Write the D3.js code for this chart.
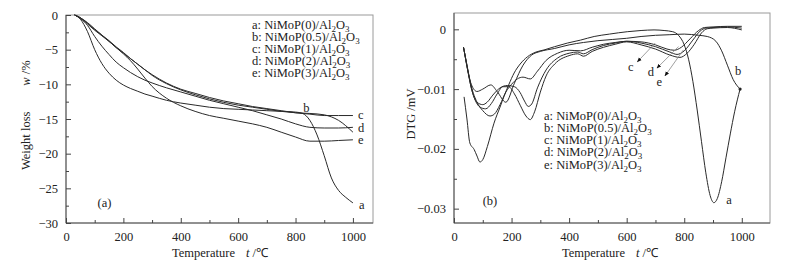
<!DOCTYPE html>
<html><head><meta charset="utf-8">
<script src="https://cdn.jsdelivr.net/npm/d3@7"></script>
<style>
html,body{margin:0;padding:0;background:#fff;}
svg{display:block;font-family:"Liberation Serif","Times New Roman",serif;}
</style></head><body>
<svg id="chart" width="788" height="264"></svg>
<script>
// ---------- Data: TG (weight loss, %) ----------
const samples = ["a: NiMoP(0)/Al_2O_3","b: NiMoP(0.5)/Al_2O_3","c: NiMoP(1)/Al_2O_3","d: NiMoP(2)/Al_2O_3","e: NiMoP(3)/Al_2O_3"];
const tgTempA = [30,50,75,100,125,150,175,200,225,250,275,300,350,400,450,500,550,600,650,700,750,800,825,850,875,900,925,950,975,1000];
const tgA     = [0,-0.6,-2.4,-5.0,-7.0,-8.4,-9.4,-10.1,-10.6,-11.0,-11.4,-11.7,-12.3,-12.7,-13.0,-13.3,-13.5,-13.6,-13.7,-13.8,-13.9,-14.0,-14.2,-15.2,-17.3,-20.3,-23.5,-25.3,-26.3,-27.1];
const tgTemp  = [30,50,75,100,125,150,175,200,225,250,275,300,350,400,450,500,550,600,650,700,750,800,850,900,950,1000];
const tgB = [0,-0.4,-1.2,-2.1,-2.9,-3.7,-4.6,-5.4,-6.3,-7.1,-7.9,-8.7,-9.9,-10.8,-11.5,-12.1,-12.6,-13.0,-13.3,-13.6,-13.9,-14.1,-14.2,-14.4,-15.2,-16.9];
const tgC = [0,-0.4,-1.3,-2.2,-3.0,-3.8,-4.7,-5.5,-6.3,-7.1,-7.9,-8.6,-9.8,-10.7,-11.3,-11.9,-12.4,-12.8,-13.2,-13.5,-13.8,-14.1,-14.3,-14.5,-14.5,-14.5];
const tgD = [0,-0.5,-1.5,-3.1,-4.5,-5.7,-6.8,-7.6,-8.3,-8.9,-9.4,-9.8,-10.5,-11.1,-11.7,-12.3,-12.8,-13.3,-13.8,-14.4,-15.0,-15.7,-16.2,-16.3,-16.3,-16.2];
const tgE = [0,-0.4,-1.1,-2.0,-2.9,-3.8,-4.7,-5.6,-6.6,-7.8,-9.1,-10.3,-12.0,-13.1,-13.9,-14.5,-14.9,-15.3,-15.7,-16.2,-16.9,-17.6,-18.2,-18.2,-18.1,-18.0];

// ---------- Data: DTG (mV) ----------
const dtgTempA = [35,45,55,70,80,90,100,116,139,160,174,190,209,230,255,285,313,350,394,440,487,540,602,650,695,730,760,780,800,815,830,845,860,875,890,903,915,930,945,960,975,994];
const dtgA     = [-0.0113,-0.0150,-0.0190,-0.0201,-0.0212,-0.0222,-0.0218,-0.0196,-0.0157,-0.0130,-0.0112,-0.0093,-0.0073,-0.0058,-0.0046,-0.0038,-0.00345,-0.0029,-0.0023,-0.0018,-0.0012,-0.0008,-0.0004,-0.0002,-0.0001,-0.0002,-0.0004,-0.0010,-0.0026,-0.0050,-0.0087,-0.0135,-0.0188,-0.0240,-0.0278,-0.0290,-0.0283,-0.0255,-0.0215,-0.0175,-0.0138,-0.0100];
const dtgTempB = [33,35,45,60,80,100,128,150,180,210,240,270,300,350,400,450,500,550,600,650,700,750,800,850,880,910,930,950,970,994];
const dtgB     = [-0.0030,-0.0035,-0.0062,-0.0092,-0.0104,-0.0100,-0.0093,-0.0104,-0.0122,-0.0090,-0.0060,-0.0043,-0.0037,-0.0032,-0.0026,-0.0022,-0.0019,-0.0017,-0.0015,-0.0012,-0.0010,-0.0009,-0.0008,-0.0010,-0.0012,-0.0020,-0.0036,-0.0060,-0.0084,-0.0100];
const dtgTempC = [33,35,45,60,80,100,125,140,160,180,200,220,240,265,290,320,360,400,440,480,520,560,600,650,700,740,765,790,820,850,870,900,950,1000];
const dtgC     = [-0.0030,-0.0035,-0.0060,-0.0095,-0.0122,-0.0136,-0.0145,-0.0142,-0.0126,-0.0105,-0.0092,-0.0083,-0.0080,-0.0083,-0.0070,-0.0052,-0.0040,-0.0035,-0.0036,-0.0030,-0.0025,-0.0022,-0.0020,-0.0021,-0.0026,-0.0033,-0.0035,-0.0030,-0.0016,-0.0002,0.0003,0.0004,0.0005,0.0005];
const dtgTempD = [33,35,45,60,80,100,115,135,160,185,210,230,245,258,270,290,320,360,400,430,450,480,520,560,600,650,700,750,775,800,830,855,875,900,950,1000];
const dtgD     = [-0.0030,-0.0035,-0.0060,-0.0098,-0.0122,-0.0126,-0.0122,-0.0110,-0.0098,-0.0094,-0.0096,-0.0106,-0.0120,-0.0129,-0.0125,-0.0098,-0.0068,-0.0048,-0.0040,-0.0038,-0.0041,-0.0034,-0.0027,-0.0023,-0.0020,-0.0023,-0.0029,-0.0038,-0.0042,-0.0036,-0.0018,-0.0003,0.0002,0.0003,0.0004,0.0002];
const dtgTempE = [33,35,45,60,75,90,110,130,150,170,190,210,230,250,265,280,300,320,350,400,430,450,480,520,560,600,650,700,750,785,810,835,860,880,900,950,1000];
const dtgE     = [-0.0030,-0.0035,-0.0062,-0.0098,-0.0120,-0.0130,-0.0133,-0.0124,-0.0108,-0.0096,-0.0096,-0.0108,-0.0127,-0.0145,-0.0151,-0.0138,-0.0105,-0.0078,-0.0058,-0.0044,-0.0041,-0.0045,-0.0037,-0.0030,-0.0025,-0.0021,-0.0026,-0.0033,-0.0043,-0.0047,-0.0040,-0.0025,-0.0006,0.0001,0.0002,0.0003,-0.0001];

const xTicks = [0,200,400,600,800,1000];
const tgYTicks = [0,-5,-10,-15,-20,-25,-30];
const dtgYTicks = [0,-0.01,-0.02,-0.03];
const curveLetters = ["a","b","c","d","e"];

const svg = d3.select("#chart");
const FS = 12.5;
const lineColor = "#2a2a2a";

function fmtMinus(v, dec){ const s = dec ? Math.abs(v).toFixed(dec) : String(Math.abs(v)); return (v<0?"\u2212":"")+s; }

function legendText(sel, str){
  // "Al_2O_3" -> subscripts; shift is carried to the next piece
  const parts = str.split(/(_\d)/).filter(p=>p.length);
  let shifted = false;
  parts.forEach(p=>{
    if(p.startsWith("_")){
      sel.append("tspan").attr("font-size","0.72em").attr("dy",shifted?0:3).text(p.slice(1));
      shifted = true;
    } else {
      sel.append("tspan").attr("dy",shifted?-3:0).text(p);
      shifted = false;
    }
  });
}

function panel(opts){
  const g = svg.append("g");
  const x = d3.scaleLinear().domain(opts.xDomain).range([opts.left, opts.right]);
  const y = d3.scaleLinear().domain(opts.yDomain).range([opts.bottom, opts.top]);
  // frame
  g.append("rect").attr("x",opts.left).attr("y",opts.top).attr("width",opts.right-opts.left).attr("height",opts.bottom-opts.top)
    .attr("fill","none").attr("stroke","#9a9a9a").attr("stroke-width",1);
  g.append("line").attr("x1",opts.left).attr("x2",opts.left).attr("y1",opts.top).attr("y2",opts.bottom).attr("stroke","#555");
  g.append("line").attr("x1",opts.left).attr("x2",opts.right).attr("y1",opts.bottom).attr("y2",opts.bottom).attr("stroke","#555");
  // x axis (ticks inward)
  const xAx = d3.axisBottom(x).tickValues(xTicks).tickSize(-5).tickPadding(9).tickFormat(d3.format("d"));
  const gx = g.append("g").attr("transform",`translate(0,${opts.bottom})`).call(xAx);
  gx.select(".domain").remove();
  gx.selectAll("line").attr("stroke","#444");
  gx.selectAll("text").attr("font-size",FS).attr("font-family","Liberation Serif").attr("fill","#222");
  const xMinor = d3.range(100,1100,200);
  g.append("g").attr("transform",`translate(0,${opts.bottom})`).call(d3.axisBottom(x).tickValues(xMinor).tickSize(-3).tickFormat(""))
    .call(s=>{s.select(".domain").remove(); s.selectAll("line").attr("stroke","#444");});
  // y axis
  const yAx = d3.axisLeft(y).tickValues(opts.yTicks).tickSize(-5).tickPadding(8).tickFormat(v=>v===0?"0":fmtMinus(v,opts.dec));
  const gy = g.append("g").attr("transform",`translate(${opts.left},0)`).call(yAx);
  gy.select(".domain").remove();
  gy.selectAll("line").attr("stroke","#444");
  gy.selectAll("text").attr("font-size",FS).attr("font-family","Liberation Serif").attr("fill","#222");
  g.append("g").attr("transform",`translate(${opts.left},0)`).call(d3.axisLeft(y).tickValues(opts.yMinor).tickSize(-3).tickFormat(""))
    .call(s=>{s.select(".domain").remove(); s.selectAll("line").attr("stroke","#444");});
  // curves
  const line = d3.line().x(d=>x(d[0])).y(d=>y(d[1])).curve(d3.curveMonotoneX);
  opts.series.forEach(s=>{
    const pts = s.t.map((t,i)=>[t,s.v[i]]);
    g.append("path").attr("d",line(pts)).attr("fill","none").attr("stroke",lineColor).attr("stroke-width",1);
  });
  return {g,x,y};
}

// ---------- Panel (a): TG ----------
const A = panel({
  left:66, right:373, top:15, bottom:223,
  xDomain:[0,1070], yDomain:[-30,0],
  yTicks:tgYTicks, yMinor:d3.range(-27.5,0,5), dec:0,
  series:[{t:tgTempA,v:tgA},{t:tgTemp,v:tgB},{t:tgTemp,v:tgC},{t:tgTemp,v:tgD},{t:tgTemp,v:tgE}]
});
// legend
samples.forEach((s,i)=>{
  const t = A.g.append("text").attr("x",252).attr("y",29+i*12.1).attr("font-size",FS).attr("fill","#222");
  legendText(t,s);
});
const tgLabelPos = [[1021,-27.3],[827,-13.3],[1018,-14.3],[1018,-16.3],[1018,-18.0]];
tgLabelPos.forEach((p,i)=>{
  A.g.append("text").attr("x",A.x(p[0])).attr("y",A.y(p[1])).attr("dy","0.35em").attr("font-size",FS).attr("fill","#222").text(curveLetters[i]);
});
A.g.append("text").attr("x",A.x(110)).attr("y",A.y(-27)).attr("dy","0.35em").attr("font-size",FS).attr("fill","#222").text("(a)");
// axis titles
A.g.append("text").attr("x",172).attr("y",257).attr("font-size",FS).attr("fill","#222")
  .call(t=>{t.append("tspan").text("Temperature"); t.append("tspan").attr("dx",11).attr("font-style","italic").text("t"); t.append("tspan").text(" /\u2103");});
A.g.append("text").attr("transform","translate(30,170) rotate(-90)").attr("font-size",FS).attr("fill","#222")
  .call(t=>{t.append("tspan").text("Weight loss"); t.append("tspan").attr("dx",26).attr("font-style","italic").text("w"); t.append("tspan").text(" /%");});

// ---------- Panel (b): DTG ----------
const B = panel({
  left:454, right:770, top:13, bottom:223,
  xDomain:[0,1098], yDomain:[-0.0324,0.00273],
  yTicks:dtgYTicks, yMinor:[-0.005,-0.015,-0.025], dec:2,
  series:[{t:dtgTempA,v:dtgA},{t:dtgTempB,v:dtgB},{t:dtgTempC,v:dtgC},{t:dtgTempD,v:dtgD},{t:dtgTempE,v:dtgE}]
});
// end dot
B.g.append("circle").attr("cx",B.x(994)).attr("cy",B.y(-0.0100)).attr("r",1.6).attr("fill","#222");
samples.forEach((s,i)=>{
  const t = B.g.append("text").attr("x",544).attr("y",120+i*12.15).attr("font-size",FS).attr("fill","#222");
  legendText(t,s);
});
const dtgLabelPos = [[956,-0.0285],[987,-0.0069],[614,-0.0062],[684,-0.0070],[713,-0.0087]];
dtgLabelPos.forEach((p,i)=>{
  B.g.append("text").attr("x",B.x(p[0])).attr("y",B.y(p[1])).attr("dy","0.35em").attr("text-anchor","middle").attr("font-size",FS).attr("fill","#222").text(curveLetters[i]);
});
// arrows
svg.append("defs").append("marker").attr("id","ah").attr("viewBox","0 0 10 10").attr("refX",9).attr("refY",5)
  .attr("markerWidth",6).attr("markerHeight",6).attr("orient","auto-start-reverse")
  .append("path").attr("d","M0,1 L10,5 L0,9 z").attr("fill","#111");
const arrows = [[[699,-0.0023],[637,-0.00545]],[[780,-0.0029],[705,-0.0065]],[[797,-0.00345],[733,-0.0078]]];
arrows.forEach(a=>{
  B.g.append("line").attr("x1",B.x(a[0][0])).attr("y1",B.y(a[0][1])).attr("x2",B.x(a[1][0])).attr("y2",B.y(a[1][1]))
    .attr("stroke","#888").attr("stroke-width",0.8).attr("marker-end","url(#ah)");
});
B.g.append("text").attr("x",B.x(125)).attr("y",B.y(-0.0287)).attr("dy","0.35em").attr("text-anchor","middle").attr("font-size",FS).attr("fill","#222").text("(b)");
B.g.append("text").attr("x",562).attr("y",257).attr("font-size",FS).attr("fill","#222")
  .call(t=>{t.append("tspan").text("Temperature"); t.append("tspan").attr("dx",11).attr("font-style","italic").text("t"); t.append("tspan").text(" /\u2103");});
B.g.append("text").attr("transform","translate(415,114) rotate(-90)").attr("text-anchor","middle").attr("font-size",FS).attr("fill","#222").text("DTG /mV");
</script>
</body></html>
